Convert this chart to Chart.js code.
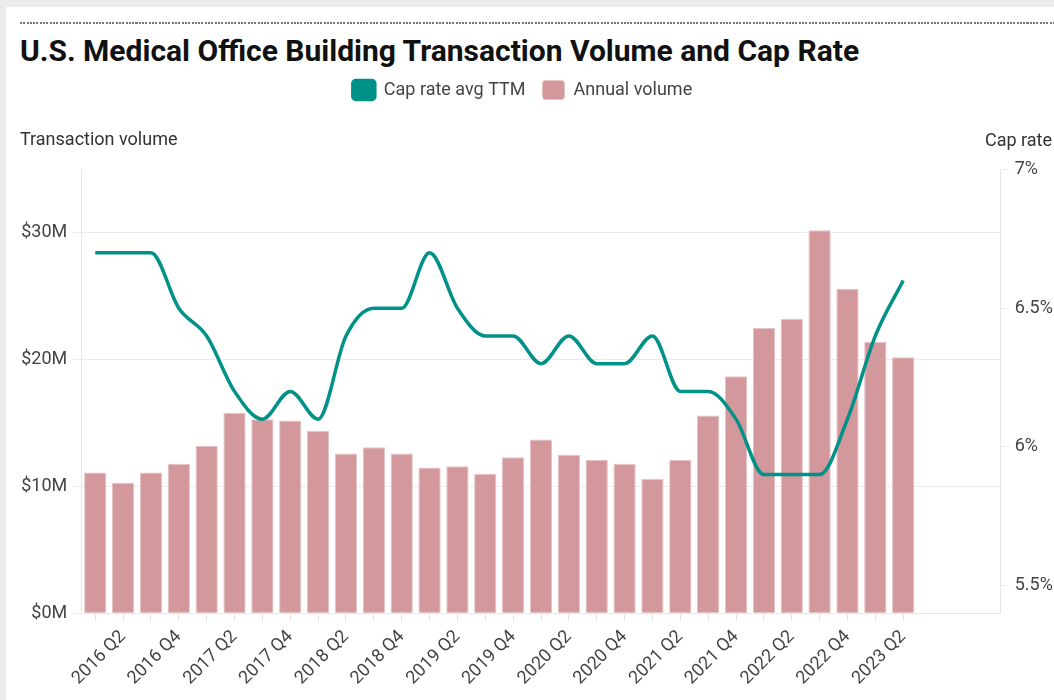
<!DOCTYPE html>
<html>

<head>
    <meta charset="utf-8">
    <title>Medical Office Building Transactions</title>
    <style>
        body { margin: 0; background: #ececec; font-family: Roboto, sans-serif; }
        .card { position: absolute; left: 6px; top: 7px; width: 1048px; height: 693px; background: #fff; }
        .rule { position: absolute; left: 20px; right: 0; top: 22px; height: 2px;
            background: repeating-linear-gradient(to right, #777 0 2px, transparent 2px 3.3px); }
        .headline { position: absolute; left: 20px; top: 33px; margin: 0; font: 700 30px Roboto, sans-serif;
            color: #111; white-space: nowrap; }
        #chart { position: absolute; left: 0; top: 0; }
    </style>
</head>

<body>
    <div class="card"></div>
    <div class="rule"></div>
    <h2 class="headline">U.S. Medical Office Building Transaction Volume and Cap Rate</h2>
    <canvas id="chart" width="1054" height="700"></canvas>

    <script src="https://cdn.jsdelivr.net/npm/chart.js"></script>

    <script>
        // quarters 2016 Q1 .. 2023 Q2
        const quarters = [
            '2016 Q1', '2016 Q2', '2016 Q3', '2016 Q4',
            '2017 Q1', '2017 Q2', '2017 Q3', '2017 Q4',
            '2018 Q1', '2018 Q2', '2018 Q3', '2018 Q4',
            '2019 Q1', '2019 Q2', '2019 Q3', '2019 Q4',
            '2020 Q1', '2020 Q2', '2020 Q3', '2020 Q4',
            '2021 Q1', '2021 Q2', '2021 Q3', '2021 Q4',
            '2022 Q1', '2022 Q2', '2022 Q3', '2022 Q4',
            '2023 Q1', '2023 Q2'
        ];
        // annual volume, $M
        const volume = [
            11.1, 10.3, 11.1, 11.8, 13.2, 15.8, 15.3, 15.2, 14.4, 12.6,
            13.1, 12.6, 11.5, 11.6, 11.0, 12.3, 13.7, 12.5, 12.1, 11.8,
            10.6, 12.1, 15.6, 18.7, 22.5, 23.2, 30.2, 25.6, 21.4, 20.2
        ];
        // cap rate avg TTM, %
        const capRate = [
            6.7, 6.7, 6.7, 6.5, 6.4, 6.2, 6.1, 6.2, 6.1, 6.4,
            6.5, 6.5, 6.7, 6.5, 6.4, 6.4, 6.3, 6.4, 6.3, 6.3,
            6.4, 6.2, 6.2, 6.1, 5.9, 5.9, 5.9, 6.1, 6.4, 6.6
        ];
        const volumeTicks = [0, 10, 20, 30];
        const capTicks = [5.5, 6, 6.5, 7];

        // three empty slots keep the right side of the plot open
        const labels = quarters.concat(['', '', '']);

        const font = { family: 'Roboto', size: 18 };
        const gridColor = '#ebebeb';

        // caption over the right axis
        const rightCaption = {
            id: 'rightCaption',
            afterDraw(chart) {
                const c = chart.ctx;
                c.save();
                c.font = '18px Roboto';
                c.fillStyle = '#333';
                c.textBaseline = 'middle';
                c.fillText('Cap rate', 985, 141);
                c.restore();
            }
        };

        // centre the legend a little left of the canvas middle
        const legendShift = {
            id: 'legendShift',
            afterLayout(chart) { chart.legend.right -= 29; }
        };

        new Chart(document.getElementById('chart'), {
            data: {
                labels: labels,
                datasets: [{
                    type: 'line',
                    label: 'Cap rate avg TTM',
                    data: capRate,
                    yAxisID: 'y2',
                    borderColor: '#009189',
                    backgroundColor: '#009189',
                    borderWidth: 3.5,
                    pointRadius: 0,
                    cubicInterpolationMode: 'monotone',
                    order: 0
                }, {
                    type: 'bar',
                    label: 'Annual volume',
                    data: volume,
                    yAxisID: 'y',
                    backgroundColor: '#d3989b',
                    borderColor: '#e6c3c5',
                    borderWidth: 1,
                    barPercentage: 0.8,
                    categoryPercentage: 1,
                    order: 1
                }]
            },
            options: {
                responsive: false,
                animation: false,
                layout: { padding: { top: 63.5, left: 20, right: 0, bottom: 0 } },
                plugins: {
                    tooltip: { enabled: false },
                    legend: {
                        labels: {
                            font: font, color: '#444', boxWidth: 22, boxHeight: 19,
                            padding: 17, useBorderRadius: true, borderRadius: 3
                        }
                    },
                    title: {
                        display: true,
                        text: 'Transaction volume',
                        align: 'start',
                        weight: 500,
                        color: '#333',
                        font: { family: 'Roboto', size: 18, weight: 'normal' },
                        padding: { top: 20.5, bottom: 17.9 }
                    }
                },
                scales: {
                    x: {
                        afterFit(axis) { axis.height = 86.7; },
                        grid: {
                            offset: false,
                            drawOnChartArea: false,
                            tickLength: 8,
                            tickColor: ctx => ctx.index < quarters.length ? '#e3e3e3' : 'rgba(0,0,0,0)'
                        },
                        border: { color: '#e6e6e6' },
                        ticks: {
                            autoSkip: false, minRotation: 45, maxRotation: 45,
                            font: font, color: '#444', padding: 5,
                            callback: (v, i) => (i % 2 === 1 && i < quarters.length) ? quarters[i] : ''
                        }
                    },
                    y: {
                        position: 'left',
                        min: 0, max: 35,
                        afterFit(axis) { axis.width = 61.3; },
                        afterBuildTicks(axis) { axis.ticks = volumeTicks.map(v => ({ value: v })); },
                        grid: { color: gridColor, tickLength: 8 },
                        border: { color: '#e6e6e6' },
                        ticks: { font: font, color: '#444', padding: 6, callback: v => '$' + v + 'M' }
                    },
                    y2: {
                        position: 'right',
                        min: 5.4, max: 7,
                        afterFit(axis) { axis.width = 53.3; },
                        afterBuildTicks(axis) { axis.ticks = capTicks.map(v => ({ value: v })); },
                        grid: { drawOnChartArea: false, color: gridColor, tickLength: 8 },
                        border: { color: '#e6e6e6' },
                        ticks: { font: font, color: '#444', padding: 6, callback: v => v + '%' }
                    }
                }
            },
            plugins: [rightCaption, legendShift]
        });
    </script>
</body>

</html>
